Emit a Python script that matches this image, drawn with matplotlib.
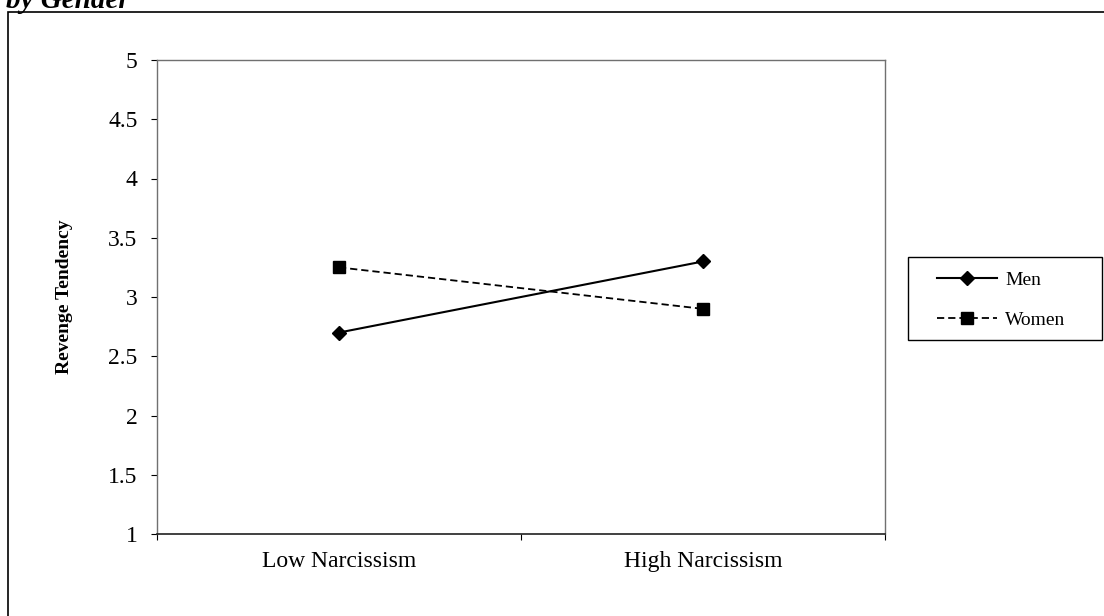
import matplotlib.pyplot as plt
from matplotlib.patches import Rectangle

# Datos
categorias = ['Low Narcissism', 'High Narcissism']
hombres = [2.70, 3.30]
mujeres = [3.25, 2.90]
ticks_y = [1, 1.5, 2, 2.5, 3, 3.5, 4, 4.5, 5]
etiquetas_y = ['1', '1.5', '2', '2.5', '3', '3.5', '4', '4.5', '5']

plt.rcParams['font.family'] = ['Liberation Serif', 'DejaVu Serif']

fig = plt.figure(figsize=(11.04, 6.16), dpi=100)
W, H = 1104, 616
ax = fig.add_axes([157 / W, 1 - 534 / H, (885 - 157) / W, (534 - 60) / H])

x = list(range(len(categorias)))
ax.plot(x, hombres, color='black', linewidth=1.5, marker='D', markersize=7,
        label='Men')
ax.plot(x, mujeres, color='black', linewidth=1.3, linestyle=(0, (4, 2.2)),
        marker='s', markersize=9, label='Women')

ax.set_xlim(-0.5, len(categorias) - 0.5)
ax.set_ylim(1, 5)
ax.set_yticks(ticks_y)
ax.set_yticklabels(etiquetas_y, fontsize=17)
ax.set_xticks([-0.5, 0.5, 1.5])
ax.set_xticklabels([])
ax.set_xticks(x, minor=True)
ax.set_xticklabels(categorias, minor=True, fontsize=17)
ax.tick_params(axis='x', which='minor', length=0, pad=12)
ax.tick_params(axis='x', which='major', length=4.5, direction='out')
ax.tick_params(axis='y', length=4, direction='out', pad=10)

for lado in ['top', 'right', 'left']:
    ax.spines[lado].set_color('#707070')
    ax.spines[lado].set_linewidth(1.0)
ax.spines['bottom'].set_color('#202020')
ax.spines['bottom'].set_linewidth(1.2)

ax.set_ylabel('Revenge Tendency', fontsize=14, fontweight='bold', labelpad=25)

# Leyenda con marco dibujado aparte
fig.patches.append(Rectangle((908 / W, 1 - 340 / H), (1102 - 908) / W,
                             (340 - 257) / H, transform=fig.transFigure,
                             fill=False, edgecolor='black', linewidth=1.0))
leg = fig.legend(loc='center left', bbox_to_anchor=(937 / W, 1 - 300 / H),
                 fontsize=14, frameon=False, handlelength=3.1, borderpad=0,
                 labelspacing=1.15, handletextpad=0.4, borderaxespad=0)

# Marco exterior de la figura
fig.patches.append(Rectangle((8 / W, -0.1), 1.2, 1 - 12 / H + 0.1,
                             transform=fig.transFigure, fill=False,
                             edgecolor='black', linewidth=1.2))

# Título cortado en la parte superior
fig.text(6 / W, 1 - 8 / H, 'by Gender', fontsize=21, fontweight='bold',
         fontstyle='italic', va='baseline', ha='left')

fig.savefig('out.png', dpi=100)
